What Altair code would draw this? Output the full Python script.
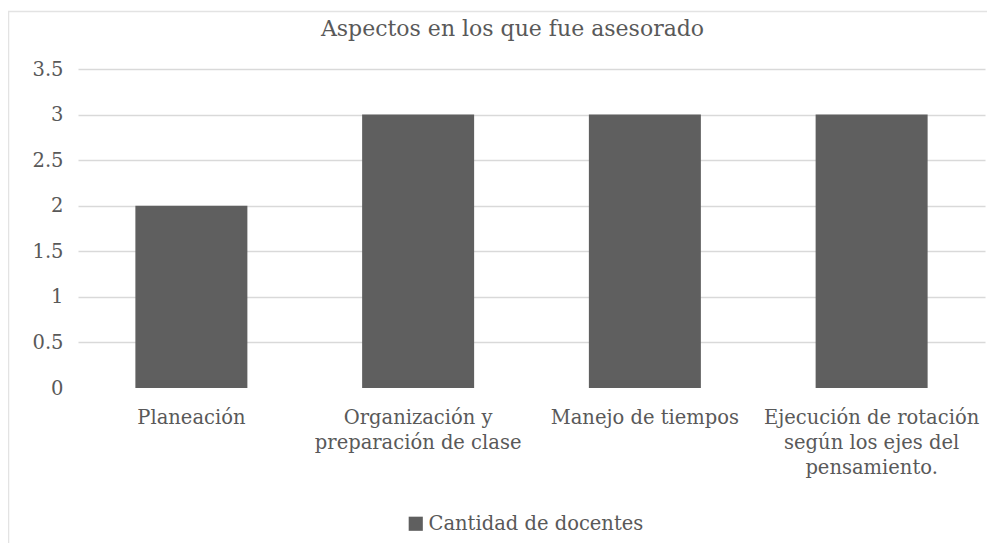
import altair as alt
import pandas as pd

categorias = [
    "Planeación",
    "Organización y\npreparación de clase",
    "Manejo de tiempos",
    "Ejecución de rotación\nsegún los ejes del\npensamiento.",
]
valores = [2, 3, 3, 3]
serie = "Cantidad de docentes"
titulo = "Aspectos en los que fue asesorado"
ticks_y = [0, 0.5, 1, 1.5, 2, 2.5, 3, 3.5]

df = pd.DataFrame({"cat": categorias, "val": valores, "serie": [serie] * len(categorias)})

FONT = "DejaVu Serif"
TXT = "#595959"
FS = 19.5

bars = alt.Chart(df).mark_bar(width=112).encode(
    x=alt.X("cat:N", sort=None, title=None,
            axis=alt.Axis(labelAngle=0, labelExpr="split(datum.label, '\\n')",
                          labelLineHeight=25, labelPadding=20, ticks=False,
                          domain=False, labelFont=FONT, labelFontSize=FS,
                          labelColor=TXT, labelLimit=300)),
    y=alt.Y("val:Q", title=None, scale=alt.Scale(domain=[0, 3.5], nice=False),
            axis=alt.Axis(values=ticks_y, format="~g", ticks=False, domain=False, labelPadding=15,
                          labelFont=FONT, labelFontSize=FS, labelColor=TXT,
                          gridColor={"condition": {"test": "datum.value === 0", "value": "transparent"},
                                     "value": "#d9d9d9"},
                          gridWidth=1.3)),
    color=alt.Color("serie:N", scale=alt.Scale(range=["#5f5f5f"]),
                    legend=alt.Legend(title=None, orient="none", legendX=328, legendY=445,
                                      symbolType="square", symbolSize=200,
                                      symbolStrokeWidth=0, labelFont=FONT,
                                      labelFontSize=FS, labelColor=TXT, labelOffset=3,
                                      labelLimit=400)),
)

marco = pd.DataFrame({"k": [0]})
borde_sup = alt.Chart(marco).mark_rule(color="#e3e3e3", strokeWidth=1.5).encode(
    x=alt.value(-70), x2=alt.value(910), y=alt.value(-57.5))
borde_izq = alt.Chart(marco).mark_rule(color="#e3e3e3", strokeWidth=1.5).encode(
    x=alt.value(-69.5), y=alt.value(-58), y2=alt.value(480))

chart = alt.layer(borde_sup, borde_izq, bars).properties(
    width=907, height=319,
    title=alt.TitleParams(titulo, font=FONT, fontSize=22, color=TXT, fontWeight="normal",
                          anchor="middle", dx=-19, offset=-31),
    autosize=alt.AutoSizeParams(type="none"),
    padding={"left": 70, "top": 61, "right": 2, "bottom": 155},
).configure_view(stroke=None)

chart.save("out.html", embed_options={"renderer": "svg", "actions": False})
